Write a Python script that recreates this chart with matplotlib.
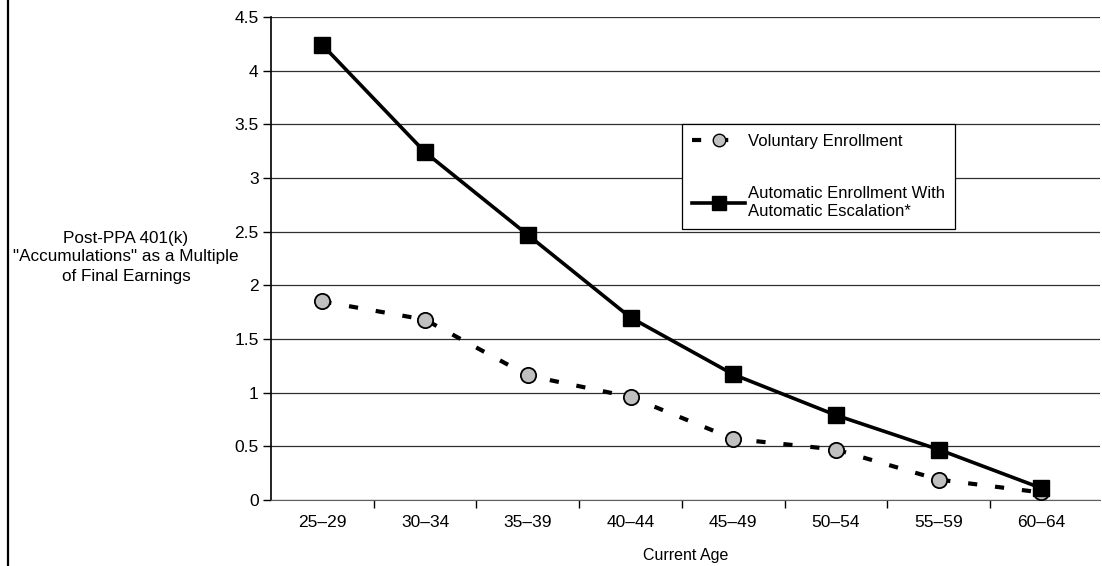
import matplotlib.pyplot as plt
from matplotlib.lines import Line2D

plt.rcParams['font.family'] = ['Liberation Sans', 'DejaVu Sans']

ages = ['25–29', '30–34', '35–39', '40–44', '45–49', '50–54', '55–59', '60–64']
voluntary = [1.85, 1.68, 1.16, 0.96, 0.57, 0.47, 0.19, 0.07]
automatic = [4.24, 3.24, 2.47, 1.70, 1.17, 0.79, 0.47, 0.11]
yticks = [0, 0.5, 1, 1.5, 2, 2.5, 3, 3.5, 4, 4.5]
ylabel_lines = ['Post-PPA 401(k)', '"Accumulations" as a Multiple', 'of Final Earnings']

dash = (0, (2.2, 4.3))

fig = plt.figure(figsize=(11.02, 5.66), dpi=100)
ax = fig.add_axes([271 / 1102, 66 / 566, 829 / 1102, 483 / 566])

x = list(range(len(ages)))
ax.plot(x, voluntary, color='black', lw=3.0, linestyle=dash,
        marker='o', ms=11, mfc='#c0c0c0', mec='black', mew=1.3, zorder=3)
ax.plot(x, automatic, color='black', lw=2.6, marker='s', ms=12,
        mfc='black', mec='black', zorder=4)

ax.set_xlim(-0.5, len(ages) - 0.5 + 0.07)
ax.set_ylim(0, 4.5)
ax.set_yticks(yticks)
ax.set_yticklabels([f'{t:g}' for t in yticks])
ax.set_xticks(x)
ax.set_xticklabels(ages)
ax.set_xticks([i - 0.5 for i in range(1, len(ages))], minor=True)
ax.tick_params(axis='x', which='major', length=0, pad=11, labelsize=12.5)
ax.tick_params(axis='x', which='minor', length=6, direction='out', width=1)
ax.tick_params(axis='y', length=6, direction='out', width=1, labelsize=12.5, pad=3)

ax.yaxis.grid(True, color='#303030', lw=0.9)
ax.set_axisbelow(True)
for side in ['top', 'right']:
    ax.spines[side].set_visible(False)
ax.spines['left'].set_linewidth(1.2)
ax.spines['bottom'].set_color('#606060')

ax.set_xlabel('Current Age', fontsize=11.5, labelpad=13)

# y-axis caption, one line at a time to the left of the tick labels
for i, line in enumerate(ylabel_lines):
    fig.text(126 / 1102, 1 - (238 + 19 * i) / 566, line,
             ha='center', va='center', fontsize=12.3)

handles = [
    Line2D([], [], color='black', lw=3.0, linestyle=dash, marker='o',
           ms=9, mfc='#c0c0c0', mec='black'),
    Line2D([], [], color='black', lw=2.6, marker='s', ms=10, mfc='black'),
]
leg = ax.legend(handles, ['Voluntary Enrollment',
                          'Automatic Enrollment With\nAutomatic Escalation*'],
                loc='upper left', bbox_to_anchor=((682 - 271) / 829, 1 - (124 - 17) / 483),
                frameon=True, fancybox=False, edgecolor='black', framealpha=1,
                fontsize=12, handlelength=3.2, handletextpad=0.15,
                labelspacing=2.25, borderpad=0.6, borderaxespad=0)
leg.get_frame().set_linewidth(0.9)

# thin frame edge on the left side of the figure
fig.add_artist(Line2D([8 / 1102, 8 / 1102], [0, 1], color='black', lw=1.6,
                      transform=fig.transFigure))

fig.savefig('out.png', dpi=100)
